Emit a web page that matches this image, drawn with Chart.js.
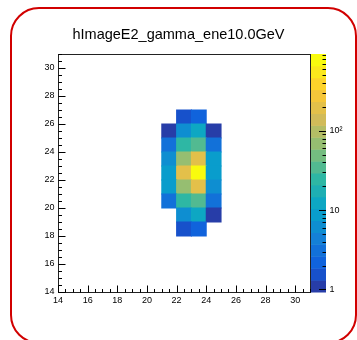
<!DOCTYPE html>
<html>
<head>
<meta charset="utf-8">
<script src="https://cdn.jsdelivr.net/npm/chart.js@4.4.1/dist/chart.umd.min.js"></script>
<style>
  html, body { margin: 0; padding: 0; background: #fff; overflow: hidden; }
  #wrap { position: relative; width: 357px; height: 340px; }
  #outline {
    position: absolute; left: 9.75px; top: 6.75px; width: 347.5px; height: 337.5px;
    box-sizing: border-box; border: 2.5px solid #d10000; border-radius: 29px; pointer-events: none;
  }
  canvas { display: block; }
</style>
</head>
<body>
<div id="wrap">
  <canvas id="c" width="357" height="340"></canvas>
  <div id="outline"></div>
</div>
<script>
// ---- histogram content ----
const histTitle = 'hImageE2_gamma_ene10.0GeV';
const xBinLow = [21, 22, 23, 24];                       // lower x edge of each column
const yBinLow = [26, 25, 24, 23, 22, 21, 20, 19, 18];   // lower y edge of each row
const binContent = [                                    // energy per cell, 0 = empty
  [0,   1.5,  2.3, 0],
  [1,   6.3,  12,  1],
  [3,   24,   38,  3],
  [7,   70,   200, 8],
  [8,   190,  930, 10],
  [7.5, 68,   195, 6.5],
  [3.2, 21,   34,  3],
  [0,   6.5,  12,  1],
  [0,   1.6,  2.4, 0]
];
const axisTicks = [14, 16, 18, 20, 22, 24, 26, 28, 30];
const axisTickLabels = ['14', '16', '18', '20', '22', '24', '26', '28', '30'];
const zTicks = [1, 10, 100];
const zTickLabels = ['1', '10', '10\u00B2'];

// ---- z range and colour levels (log scale, 20 contour levels) ----
const nLevels = 20;
const zMax = Math.max(...binContent.flat());
const zMin = Math.min(1, 0.001 * zMax);
const lzMin = Math.log10(zMin), lzMax = Math.log10(zMax);

const birdStops = [0.0, 0.125, 0.25, 0.375, 0.5, 0.625, 0.75, 0.875, 1.0];
const birdR = [0.2082, 0.0592, 0.0780, 0.0232, 0.1802, 0.5301, 0.8186, 0.9956, 0.9764];
const birdG = [0.1664, 0.3599, 0.5041, 0.6419, 0.7178, 0.7492, 0.7328, 0.7862, 0.9832];
const birdB = [0.5293, 0.8684, 0.8385, 0.7914, 0.6425, 0.4662, 0.3499, 0.1968, 0.0539];

function birdAt(f) {
  let i = 0;
  while (i < birdStops.length - 2 && f > birdStops[i + 1]) i++;
  const t = (f - birdStops[i]) / (birdStops[i + 1] - birdStops[i]);
  const c = (a) => Math.round(255 * (a[i] + t * (a[i + 1] - a[i])));
  return `rgb(${c(birdR)},${c(birdG)},${c(birdB)})`;
}
function levelColor(k) {
  const idx = Math.floor((k + 0.99) * 255 / nLevels);
  return birdAt(idx / 254);
}
function levelOf(v) {
  const k = Math.floor(nLevels * (Math.log10(v) - lzMin) / (lzMax - lzMin));
  return Math.max(0, Math.min(nLevels - 1, k));
}

// ---- cells as floating bars ----
const cells = [];
yBinLow.forEach((yl, r) => {
  xBinLow.forEach((xl, c) => {
    const v = binContent[r][c];
    if (v > 0) cells.push({ x: xl + 0.5, y: [yl, yl + 1], v });
  });
});

const font = { family: "'Liberation Sans', Arial, Helvetica, sans-serif", size: 9 };
Chart.defaults.color = '#000';

// frame, inward tick marks and the colour palette
const histDecor = {
  id: 'histDecor',
  afterDatasetsDraw(chart) {
    const { ctx, chartArea: a, scales: { x, y, z } } = chart;
    const L = Math.round(a.left), R = Math.round(a.right), T = Math.round(a.top), B = Math.round(a.bottom);
    ctx.save();

    // palette
    const px0 = R + 1, pw = 15;
    for (let k = 0; k < nLevels; k++) {
      const lo = Math.pow(10, lzMin + k * (lzMax - lzMin) / nLevels);
      const hi = Math.pow(10, lzMin + (k + 1) * (lzMax - lzMin) / nLevels);
      const y1 = z.getPixelForValue(hi), y2 = z.getPixelForValue(lo);
      ctx.fillStyle = levelColor(k);
      ctx.fillRect(px0, y1, pw, y2 - y1 + 0.5);
    }
    ctx.strokeStyle = '#000';
    ctx.lineWidth = 1;
    ctx.beginPath();
    for (let d = 0; d <= 3; d++) {
      for (let m = 1; m <= 9; m++) {
        const v = m * Math.pow(10, d);
        if (v < zMin || v > zMax) continue;
        const py = Math.round(z.getPixelForValue(v)) + 0.5;
        const len = m === 1 ? 7 : 3.5;
        ctx.moveTo(px0 + pw, py);
        ctx.lineTo(px0 + pw - len, py);
      }
    }
    ctx.stroke();

    // frame box
    ctx.strokeStyle = '#222';
    ctx.strokeRect(L + 0.5, T + 0.5, R - L, B - T);

    // axis ticks pointing into the frame
    ctx.strokeStyle = '#000';
    ctx.beginPath();
    for (let v = x.min; v <= x.max + 1e-9; v += 0.5) {
      const px = Math.round(x.getPixelForValue(v)) + 0.5;
      const len = (v % 2 === 0) ? 7 : 3.5;
      ctx.moveTo(px, B + 0.5);
      ctx.lineTo(px, B + 0.5 - len);
    }
    for (let v = y.min; v <= y.max + 1e-9; v += 0.5) {
      const py = Math.round(y.getPixelForValue(v)) + 0.5;
      const len = (v % 2 === 0) ? 7 : 3.5;
      ctx.moveTo(L + 0.5, py);
      ctx.lineTo(L + 0.5 + len, py);
    }
    ctx.stroke();
    ctx.restore();
  }
};

const setTicks = (vals) => (scale) => { scale.ticks = vals.map(v => ({ value: v })); };

new Chart(document.getElementById('c'), {
  type: 'bar',
  data: {
    datasets: [{
      data: cells,
      yAxisID: 'y',
      backgroundColor: cells.map(c => levelColor(levelOf(c.v))),
      borderWidth: 0,
      borderSkipped: false,
      inflateAmount: 0.5,
      barPercentage: 1,
      categoryPercentage: 1
    }]
  },
  options: {
    responsive: false,
    animation: false,
    events: [],
    layout: { padding: { left: 0, right: 0, top: 0, bottom: 20 } },
    plugins: {
      legend: { display: false },
      tooltip: { enabled: false },
      title: {
        display: true,
        text: histTitle,
        color: '#000',
        font: { family: font.family, size: 14.5, weight: 'normal', lineHeight: 1.2 },
        padding: { top: 26.7, bottom: 9.9 }
      }
    },
    scales: {
      x: {
        type: 'linear', min: 14, max: 31, offset: false,
        grid: { display: false, drawTicks: false }, border: { display: false },
        afterBuildTicks: setTicks(axisTicks),
        afterFit: (s) => { s.height = 28; },
        ticks: { font, padding: 3, maxRotation: 0, autoSkip: false,
                 callback: (v, i) => axisTickLabels[i] }
      },
      y: {
        type: 'linear', min: 14, max: 31, position: 'left',
        grid: { display: false, drawTicks: false }, border: { display: false },
        afterBuildTicks: setTicks(axisTicks),
        afterFit: (s) => { s.width = 58; },
        ticks: { font, padding: 3.5, autoSkip: false,
                 callback: (v, i) => axisTickLabels[i] }
      },
      z: {
        type: 'logarithmic', min: zMin, max: zMax, position: 'right',
        grid: { display: false, drawTicks: false }, border: { display: false },
        afterBuildTicks: setTicks(zTicks),
        afterFit: (s) => { s.width = 47; },
        ticks: { font, padding: 19.5, autoSkip: false,
                 callback: (v, i) => zTickLabels[i] }
      }
    }
  },
  plugins: [histDecor]
});
</script>
</body>
</html>
